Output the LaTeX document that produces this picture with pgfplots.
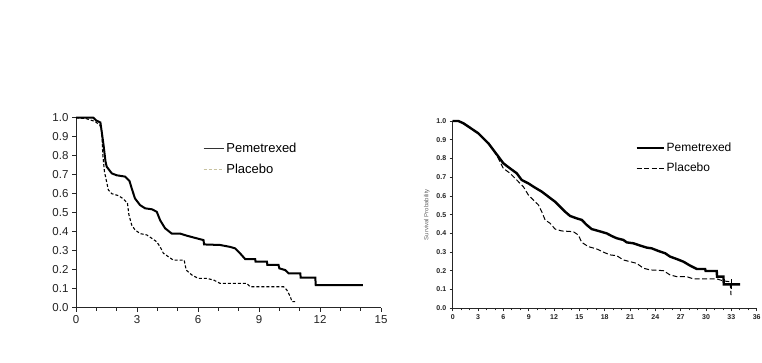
\documentclass[border=0pt]{standalone}
\usepackage{fontspec}
\setmainfont{Liberation Sans}
\usepackage{pgfplots}
\pgfplotsset{compat=1.18}
\definecolor{tickgray}{HTML}{222222}
\definecolor{beige}{HTML}{C8C2A0}
\begin{document}
\begin{tikzpicture}[x=1pt,y=1pt]
\path[use as bounding box, fill=white] (0,0) rectangle (762,363);
% ---------------- left chart ----------------
\begin{axis}[
  at={(76pt,55.3pt)}, anchor=south west,
  scale only axis, width=305pt, height=190pt,
  xmin=0, xmax=15, ymin=0, ymax=1.0,
  axis lines=left, axis line style={-, line width=1pt, black!85},
  xtick={0,3,6,9,12,15}, minor x tick num=2,
  ytick={0,0.1,...,1.0},
  tick align=outside, major tick length=4pt, minor tick length=3pt,
  tick style={black!85, line width=0.8pt},
  ticklabel style={font=\fontsize{11.5}{13}\selectfont, text=tickgray},
  /pgf/number format/assume math mode=true,
  yticklabel style={/pgf/number format/.cd, fixed, fixed zerofill, precision=1},
  legend style={at={(axis description cs:0.416,0.880)}, anchor=north west,
    draw=none, fill=none, inner sep=0pt, row sep=6.5pt,
    font=\fontsize{13}{14.5}\selectfont, nodes={inner sep=2pt}},
  legend cell align=left,
  legend image code/.code={\draw[#1] (0pt,0pt) -- (20pt,0pt);},
  clip=false,
]
\addlegendimage{line width=1.3pt, black!80}
\addlegendentry{Pemetrexed}
\addlegendimage{line width=1.3pt, beige, dash pattern=on 3pt off 2pt}
\addlegendentry{Placebo}
\addplot[forget plot, black, line width=2pt] coordinates {
(0,1.0) (0.85,1.0) (1.0,0.985) (1.2,0.975) (1.26,0.93) (1.35,0.86) (1.45,0.77) (1.51,0.742) (1.76,0.707) (2.0,0.697) (2.41,0.69) (2.63,0.667) (2.74,0.628) (2.9,0.575) (3.15,0.54) (3.4,0.523) (3.73,0.518) (3.97,0.505) (4.14,0.46) (4.38,0.418) (4.71,0.39) (5.12,0.39) (5.45,0.379) (5.94,0.365) (6.27,0.356) (6.3,0.333) (7.09,0.33) (7.58,0.32) (7.83,0.312) (8.07,0.286) (8.32,0.256) (8.81,0.256) (8.83,0.242) (9.39,0.242) (9.41,0.225) (9.96,0.225) (10.0,0.207) (10.29,0.198) (10.45,0.181) (11.03,0.181) (11.05,0.158) (11.77,0.158) (11.79,0.119) (14.11,0.119)
};
\addplot[forget plot, black, line width=1.1pt, dash pattern=on 3pt off 2pt] coordinates {
(0,1.0) (0.5,0.995) (0.94,0.98) (1.18,0.96) (1.26,0.93) (1.32,0.8) (1.4,0.716) (1.59,0.62) (1.76,0.60) (2.08,0.59) (2.30,0.575) (2.53,0.55) (2.6,0.49) (2.74,0.435) (2.9,0.41) (3.15,0.39) (3.48,0.383) (3.73,0.365) (3.97,0.347) (4.14,0.32) (4.3,0.286) (4.55,0.268) (4.79,0.25) (5.32,0.25) (5.42,0.198) (5.7,0.172) (6.02,0.154) (6.43,0.154) (6.76,0.146) (7.09,0.128) (8.4,0.128) (8.57,0.11) (10.21,0.11) (10.37,0.093) (10.54,0.058) (10.62,0.032) (10.78,0.032)
};
\end{axis}
% ---------------- right chart ----------------
\begin{axis}[
  at={(452.7pt,54.7pt)}, anchor=south west,
  scale only axis, width=304pt, height=187.3pt,
  xmin=0, xmax=36, ymin=0, ymax=1.0,
  axis lines=left, axis line style={-, line width=1pt, black!85},
  xtick={0,3,...,36}, minor x tick num=2,
  ytick={0,0.1,...,1.0},
  tick align=outside, major tick length=3pt, minor tick length=2pt,
  tick style={black!85, line width=0.8pt},
  ticklabel style={font=\fontsize{7}{8}\selectfont\bfseries, text=tickgray},
  /pgf/number format/assume math mode=true,
  yticklabel style={/pgf/number format/.cd, fixed, fixed zerofill, precision=1},
  ylabel={Survival Probability},
  ylabel style={font=\fontsize{6}{7}\selectfont, text=black!60},
  legend style={at={(axis description cs:0.60,0.894)}, anchor=north west,
    draw=none, fill=none, inner sep=0pt, row sep=6pt,
    font=\fontsize{12}{13.5}\selectfont, nodes={inner sep=2pt}},
  legend cell align=left,
  legend image code/.code={\draw[#1] (0pt,0pt) -- (27pt,0pt);},
  clip=false,
]
\addlegendimage{line width=2.4pt, black}
\addlegendentry{Pemetrexed}
\addlegendimage{line width=1pt, black, dash pattern=on 5pt off 2.5pt}
\addlegendentry{Placebo}
\addplot[forget plot, black, line width=1pt, dash pattern=on 5pt off 2.5pt] coordinates {
(0,1.0) (0.67,1.0) (1.26,0.988) (1.86,0.97) (2.45,0.952) (3.04,0.934) (3.63,0.907) (4.22,0.881) (4.82,0.845) (5.41,0.80) (6.0,0.747) (6.79,0.721) (7.58,0.685) (8.37,0.649) (8.96,0.605) (9.55,0.578) (10.15,0.552) (10.54,0.516) (10.94,0.472) (11.53,0.454) (12.12,0.423) (12.91,0.413) (14.29,0.409) (14.88,0.391) (15.28,0.352) (16.07,0.329) (17.05,0.317) (17.84,0.3) (18.63,0.285) (19.42,0.281) (20.21,0.258) (21.0,0.249) (21.79,0.24) (22.58,0.214) (23.37,0.205) (24.95,0.201) (25.74,0.178) (26.53,0.169) (27.71,0.169) (28.5,0.157) (31.27,0.157) (32.06,0.146) (32.85,0.142) (32.96,0.07)
};
\addplot[forget plot, black, line width=2.4pt] coordinates {
(0,1.0) (0.67,1.0) (1.26,0.988) (1.86,0.97) (2.45,0.952) (3.04,0.934) (3.63,0.907) (4.22,0.881) (4.82,0.845) (5.41,0.81) (6.0,0.774) (6.79,0.747) (7.58,0.721) (8.17,0.685) (8.96,0.667) (9.75,0.644) (10.54,0.623) (11.33,0.596) (12.12,0.569) (12.71,0.543) (13.3,0.516) (13.9,0.493) (14.69,0.48) (15.28,0.472) (15.87,0.445) (16.46,0.423) (17.25,0.413) (18.24,0.4) (18.83,0.386) (19.42,0.374) (20.21,0.365) (20.61,0.352) (21.4,0.347) (22.19,0.335) (22.98,0.324) (23.57,0.32) (24.36,0.306) (25.15,0.294) (25.74,0.276) (26.53,0.263) (27.32,0.249) (28.11,0.228) (28.9,0.21) (29.89,0.21) (29.95,0.199) (31.27,0.199) (31.3,0.169) (32.06,0.169) (32.1,0.128) (34.03,0.128)
};
\addplot[forget plot, only marks, mark=|, mark size=5pt, mark options={line width=1pt, black}] coordinates {(33,0.128)};
\end{axis}
\end{tikzpicture}
\end{document}
